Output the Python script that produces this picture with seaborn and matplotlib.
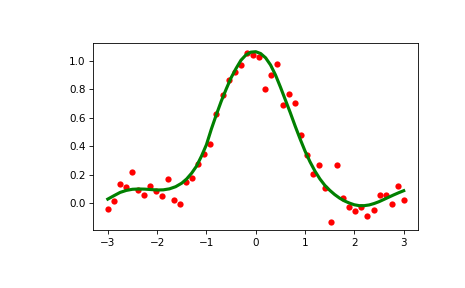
import numpy as np
import pandas as pd
import matplotlib
matplotlib.use("Agg")
import matplotlib.pyplot as plt
import seaborn as sns

# Noisy samples (50 points evenly spaced from -3 to 3)
x_points = np.linspace(-3, 3, 50)
y_points = [-0.042, 0.014, 0.136, 0.110, 0.218, 0.094, 0.056, 0.117, 0.087, 0.049,
            0.171, 0.021, -0.007, 0.148, 0.178, 0.275, 0.345, 0.415, 0.624, 0.756,
            0.866, 0.920, 0.967, 1.051, 1.042, 1.028, 0.798, 0.896, 0.974, 0.690,
            0.763, 0.700, 0.479, 0.338, 0.206, 0.268, 0.106, -0.132, 0.268, 0.033,
            -0.026, -0.056, -0.024, -0.089, -0.047, 0.058, 0.058, -0.007, 0.122, 0.021]

# Smoothed curve
x_curve = [-3.0, -2.875, -2.75, -2.625, -2.5, -2.375, -2.25, -2.125, -2.0, -1.875,
           -1.75, -1.625, -1.5, -1.4, -1.3, -1.2, -1.1, -1.0, -0.9, -0.8, -0.7, -0.6,
           -0.5, -0.4, -0.3, -0.2, -0.1, 0.0, 0.1, 0.2, 0.3, 0.4, 0.5, 0.6, 0.7, 0.8,
           0.9, 1.0, 1.1, 1.2, 1.3, 1.4, 1.5, 1.6, 1.7, 1.8, 1.9, 2.0, 2.1, 2.2, 2.3,
           2.4, 2.5, 2.6, 2.7, 2.8, 2.9, 3.0]
y_curve = [0.028, 0.052, 0.075, 0.089, 0.097, 0.099, 0.098, 0.095, 0.092, 0.093,
           0.100, 0.115, 0.140, 0.170, 0.210, 0.260, 0.330, 0.410, 0.520, 0.620, 0.715, 0.800,
           0.880, 0.945, 1.003, 1.040, 1.060, 1.063, 1.050, 1.020, 0.970, 0.900, 0.815, 0.725, 0.635, 0.540,
           0.450, 0.365, 0.290, 0.225, 0.170, 0.125, 0.090, 0.060, 0.035, 0.015, 0.000, -0.012, -0.018, -0.018, -0.013,
           -0.003, 0.010, 0.026, 0.042, 0.058, 0.073, 0.087]

pts = pd.DataFrame({"x": x_points, "y": y_points})
crv = pd.DataFrame({"x": x_curve, "y": y_curve})

fig, ax = plt.subplots(figsize=(6.2, 3.84), dpi=75)
fig.subplots_adjust(left=0.2, right=0.9, bottom=0.2, top=0.85)

sns.scatterplot(data=pts, x="x", y="y", color="red", s=36, linewidth=0, ax=ax, zorder=2)
sns.lineplot(data=crv, x="x", y="y", color="green", linewidth=3, ax=ax, sort=False,
             estimator=None, zorder=3)

ax.set_xlabel("")
ax.set_ylabel("")
ax.set_xticks([-3, -2, -1, 0, 1, 2, 3])
ax.set_yticks([0.0, 0.2, 0.4, 0.6, 0.8, 1.0])

fig.savefig("out.png", dpi=75)
